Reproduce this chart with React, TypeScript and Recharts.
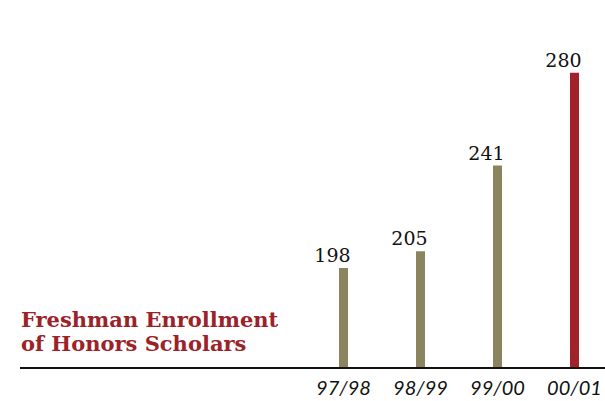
import { BarChart, Bar, XAxis, YAxis, Cell, LabelList } from 'recharts';

const years = ['97/98', '98/99', '99/00', '00/01'];
const scholars = [198, 205, 241, 280];
const barColors = ['#8b855f', '#8b855f', '#8b855f', '#a2222a'];

const data = years.map((year, i) => ({ year, scholars: scholars[i] }));

const renderValue = (props: any) => {
  const { x, y, width, value } = props;
  return (
    <text
      x={x + width / 2 - 11}
      y={y - 6}
      textAnchor="middle"
      fill="#111"
      fontFamily="'DejaVu Serif', serif"
      fontSize={19}
    >
      {value}
    </text>
  );
};

export default function App() {
  return (
    <div style={{ position: 'absolute', left: 0, top: 0, width: 605, height: 401, overflow: 'hidden', background: '#fff' }}>
      <BarChart width={613} height={401} data={data} margin={{ top: 25, right: 0, left: 20, bottom: 0 }}>
        <YAxis hide domain={[156, 300]} allowDataOverflow />
        <XAxis
          dataKey="year"
          height={33}
          padding={{ left: 285, right: 0 }}
          axisLine={{ stroke: '#111', strokeWidth: 2 }}
          tickLine={false}
          tickMargin={7}
          tick={{ fill: '#111', fontSize: 20, fontStyle: 'italic', fontFamily: 'Lato, sans-serif' }}
          interval={0}
        />
        <Bar dataKey="scholars" barSize={9} isAnimationActive={false}>
          {data.map((d, i) => (
            <Cell key={d.year} fill={barColors[i]} />
          ))}
          <LabelList dataKey="scholars" content={renderValue} />
        </Bar>
      </BarChart>
      <div
        style={{
          position: 'absolute',
          left: 21,
          top: 308,
          color: '#9b2228',
          fontFamily: "'DejaVu Serif', serif",
          fontWeight: 'bold',
          fontSize: 21,
          lineHeight: '24px',
          whiteSpace: 'nowrap',
        }}
      >
        Freshman Enrollment
        <br />
        of Honors Scholars
      </div>
    </div>
  );
}
